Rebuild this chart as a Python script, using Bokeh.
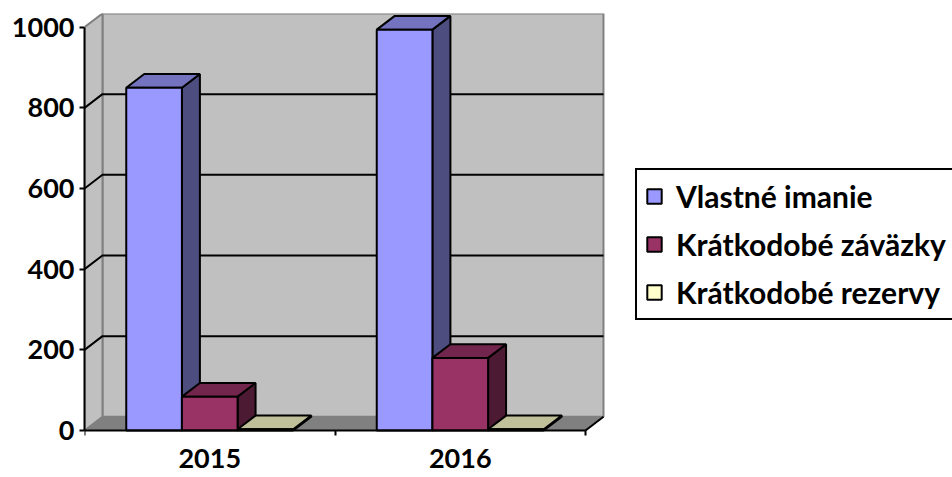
from bokeh.plotting import figure
from bokeh.models import Range1d, FixedTicker, Legend, LegendItem
from bokeh.embed import file_html
from bokeh.resources import INLINE

# ---- data ----
categories = ["2015", "2016"]
series_names = ["Vlastné imanie", "Krátkodobé záväzky", "Krátkodobé rezervy"]
vlastne_imanie = [850, 994]
kratkodobe_zavazky = [84, 180]
kratkodobe_rezervy = [3, 3]
y_ticks = [0, 200, 400, 600, 800, 1000]

series_values = [vlastne_imanie, kratkodobe_zavazky, kratkodobe_rezervy]

# ---- style / layout ----
front_colors = ["#9999FF", "#993366", "#FFFFCC"]
top_colors = ["#7373BF", "#73264D", "#BFBF99"]
side_colors = ["#4D4D80", "#4D1A33", "#808066"]
FONT = "Lato"

W, H = 952, 477
LEFT, TOP = 84, 13
PX_PER_CAT = 250.5
PX_PER_UNIT = 0.4033

DX = 0.0718   # perspective depth, x units
DY = 34.0     # perspective depth, value units
GAP = 1.5
n_series = len(series_values)
n_cat = len(categories)
bar_w = 1.0 / (n_series + GAP)
y_max = y_ticks[-1]

frame_w = W - LEFT
frame_h = H - TOP
y_top = y_max + DY
x_end = frame_w / PX_PER_CAT
y_start = y_top - frame_h / PX_PER_UNIT

p = figure(width=W, height=H, output_backend="svg", toolbar_location=None,
           x_range=Range1d(0, x_end), y_range=Range1d(y_start, y_top),
           min_border_left=LEFT, min_border_top=TOP, min_border_right=0,
           min_border_bottom=0, outline_line_color=None,
           background_fill_color="white", border_fill_color="white")
p.xgrid.visible = False
p.ygrid.visible = False

# walls and floor
p.patch([DX, n_cat + DX, n_cat + DX, DX], [DY, DY, y_max + DY, y_max + DY],
        fill_color="#C0C0C0", line_color="#808080", line_width=2)
p.patch([0, DX, DX, 0], [0, DY, y_max + DY, y_max],
        fill_color="#C0C0C0", line_color="#808080", line_width=2)
p.patch([0, n_cat, n_cat + DX, DX], [0, 0, DY, DY],
        fill_color="#808080", line_color="#808080", line_width=1)

# gridlines
gx, gy = [], []
for v in y_ticks[1:-1]:
    gx.append([0, DX, n_cat + DX])
    gy.append([v, v + DY, v + DY])
p.multi_line(gx, gy, line_color="black", line_width=2)
p.segment([n_cat], [0], [n_cat + DX], [DY], line_color="black", line_width=2)

# bars
items = []
for i, vals in enumerate(series_values):
    fx, fy, tx, ty, sx, sy = [], [], [], [], [], []
    for j, v in enumerate(vals):
        x0 = j + 0.5 + (i - (n_series - 1) / 2) * bar_w - bar_w / 2
        x1 = x0 + bar_w
        fx.append([x0, x1, x1, x0]); fy.append([0, 0, v, v])
        tx.append([x0, x1, x1 + DX, x0 + DX]); ty.append([v, v, v + DY, v + DY])
        sx.append([x1, x1 + DX, x1 + DX, x1]); sy.append([0, DY, v + DY, v])
    p.patches(sx, sy, fill_color=side_colors[i], line_color="black", line_width=2)
    p.patches(tx, ty, fill_color=top_colors[i], line_color="black", line_width=2)
    r = p.patches(fx, fy, fill_color=front_colors[i], line_color="black", line_width=2)
    items.append(LegendItem(label=series_names[i], renderers=[r]))

# axes
xa = p.xaxis[0]
xa.fixed_location = 0
xa.ticker = FixedTicker(ticks=[j + 0.5 for j in range(n_cat)],
                        minor_ticks=list(range(n_cat + 1)))
xa.major_label_overrides = {j + 0.5: c for j, c in enumerate(categories)}
xa.bounds = (0, n_cat)
xa.axis_line_color = "black"
xa.axis_line_width = 2
xa.major_tick_line_color = None
xa.major_tick_out = 0
xa.major_tick_in = 0
xa.minor_tick_out = 5
xa.minor_tick_in = 0
xa.minor_tick_line_color = "black"
xa.minor_tick_line_width = 2
xa.major_label_standoff = 13
xa.major_label_text_font = FONT
xa.major_label_text_font_style = "bold"
xa.major_label_text_font_size = "27px"
xa.major_label_text_color = "black"

ya = p.yaxis[0]
ya.ticker = FixedTicker(ticks=y_ticks, minor_ticks=[])
ya.bounds = (0, y_max)
ya.axis_line_color = "black"
ya.axis_line_width = 2
ya.major_tick_out = 5
ya.major_tick_in = 0
ya.major_tick_line_color = "black"
ya.major_tick_line_width = 2
ya.minor_tick_line_color = None
ya.major_label_standoff = 5
ya.major_label_text_font = FONT
ya.major_label_text_font_style = "bold"
ya.major_label_text_font_size = "27px"
ya.major_label_text_color = "black"

legend = Legend(items=items, location=(635 - LEFT, H - 320), margin=0, padding=8,
                spacing=12,
                label_text_font=FONT, label_text_font_style="bold",
                label_text_font_size="30px", label_text_color="black",
                glyph_width=18, glyph_height=18, label_standoff=13, label_height=30,
                border_line_color="black", border_line_width=2, border_line_alpha=1,
                background_fill_color="white", background_fill_alpha=1)
p.add_layout(legend)

open("out.html", "w").write(file_html(p, INLINE))
